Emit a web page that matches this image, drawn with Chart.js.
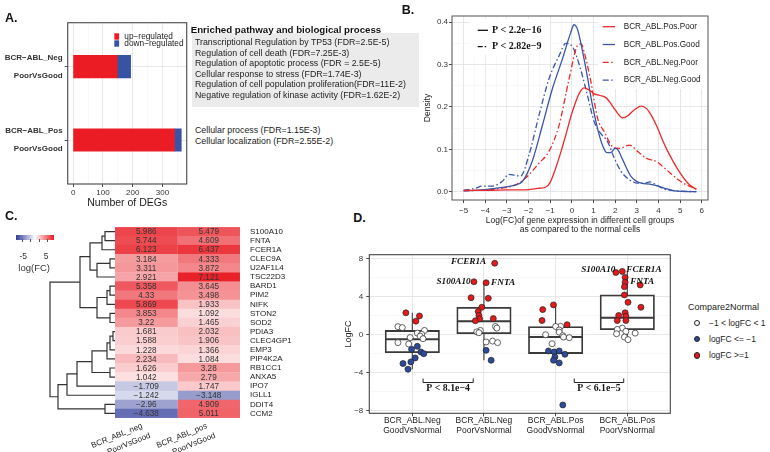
<!DOCTYPE html>
<html>
<head>
<meta charset="utf-8">
<title>DEG figure</title>
<script src="https://cdn.jsdelivr.net/npm/chart.js@4.4.1/dist/chart.umd.min.js"></script>
<style>
  body { margin: 0; width: 770px; height: 452px; position: relative; overflow: hidden; background: #fff;
         font-family: "Liberation Sans", Arial, sans-serif; color: #222; }
  canvas { position: absolute; }
  .t { position: absolute; white-space: nowrap; line-height: 1; }
  #termBox { position: absolute; left: 192px; top: 33px; width: 227px; height: 74px; background: #ebebeb; }
  #fcBar { position: absolute; left: 16px; top: 235px; width: 38px; height: 4.5px; }
</style>
</head>
<body>
<div id="termBox"></div>
<div id="fcBar"></div>
<canvas id="chartA" width="195" height="200" style="left:0;top:15px"></canvas>
<canvas id="chartB" width="305" height="225" style="left:405px;top:12px"></canvas>
<canvas id="dendro" width="72" height="191" style="left:45px;top:227px"></canvas>
<canvas id="heat" width="185" height="191" style="left:115px;top:227px"></canvas>
<canvas id="chartD" width="345" height="190" style="left:330px;top:250px"></canvas>
<script>
// ---------- A: number of DEGs ----------
const degGroups = [['BCR−ABL_Neg', 'PoorVsGood'], ['BCR−ABL_Pos', 'PoorVsGood']];
const degUp = [148, 340];
const degDown = [45, 23];
const negTerms = [
  'Transcriptional Regulation by TP53 (FDR=2.5E-5)',
  'Regulation of cell death (FDR=7.25E-3)',
  'Regulation of apoptotic process (FDR = 2.5E-5)',
  'Cellular response to stress (FDR=1.74E-3)',
  'Regulation of cell population proliferation(FDR=11E-2)',
  'Negative regulation of kinase activity (FDR=1.62E-2)'
];
const posTerms = ['Cellular process (FDR=1.15E-3)', 'Cellular localization (FDR=2.55E-2)'];

// ---------- B: density of log(FC) ----------
const posPoorDens = [[-5,0.003],[-4,0.003],[-3,0.004],[-2,0.005],[-1.5,0.008],[-1.2,0.011],[-1.0,0.022],[-0.75,0.055],[-0.5,0.095],[-0.28,0.134],[0,0.185],[0.34,0.232],[0.57,0.245],[0.8,0.24],[1.03,0.231],[1.3,0.227],[1.57,0.222],[1.8,0.208],[2.0,0.193],[2.35,0.174],[2.6,0.18],[2.81,0.19],[3.2,0.202],[3.45,0.196],[3.65,0.182],[3.97,0.149],[4.2,0.12],[4.43,0.095],[4.9,0.052],[5.36,0.02],[5.75,0.005]];
const posGoodDens = [[-5,0.002],[-4.15,0.004],[-3.38,0.009],[-2.68,0.015],[-2.29,0.024],[-1.83,0.072],[-1.37,0.155],[-0.9,0.243],[-0.44,0.313],[-0.05,0.376],[0.1,0.394],[0.22,0.388],[0.34,0.368],[0.65,0.29],[0.95,0.204],[1.26,0.134],[1.45,0.105],[1.62,0.092],[1.78,0.092],[2.0,0.102],[2.12,0.099],[2.35,0.075],[2.73,0.036],[3.2,0.02],[3.6,0.018],[3.9,0.014],[4.28,0.008],[4.75,0.002],[5.75,0.0]];
const negPoorDens = [[-5,0.002],[-4,0.004],[-3.38,0.007],[-2.6,0.016],[-2.14,0.032],[-1.52,0.067],[-1.06,0.095],[-0.59,0.157],[-0.13,0.266],[0.26,0.345],[0.43,0.349],[0.57,0.329],[0.88,0.259],[1.19,0.173],[1.5,0.141],[1.88,0.106],[2.19,0.102],[2.66,0.11],[3.04,0.095],[3.43,0.079],[3.9,0.071],[4.36,0.052],[4.82,0.032],[5.29,0.016],[5.75,0.007]];
const negGoodDens = [[-5,0.003],[-4.46,0.008],[-4.15,0.013],[-3.69,0.013],[-3.22,0.024],[-2.91,0.041],[-2.6,0.038],[-2.37,0.037],[-1.98,0.087],[-1.52,0.18],[-1.06,0.266],[-0.59,0.321],[-0.28,0.35],[0.03,0.342],[0.34,0.3],[0.72,0.227],[1.03,0.165],[1.34,0.137],[1.65,0.118],[1.96,0.079],[2.27,0.048],[2.66,0.028],[3.04,0.02],[3.35,0.02],[3.6,0.023],[3.9,0.016],[4.28,0.006],[4.75,0.002],[5.75,0.0]];
const pLegend = ['P < 2.2e−16', 'P < 2.82e−9'];

// ---------- C: heatmap of PoorVsGood log(FC) ----------
const heatGenes = ['S100A10','FNTA','FCER1A','CLEC9A','U2AF1L4','TSC22D3','BARD1','PIM2','NIFK','STON2','SOD2',
  'PDIA3','CLEC4GP1','EMP3','PIP4K2A','RB1CC1','ANXA5','IPO7','IGLL1','DDIT4','CCM2'];
const heatNeg = [5.986,5.744,6.123,3.184,3.311,2.921,5.358,4.33,5.869,3.853,3.22,1.681,1.588,1.228,2.234,1.626,1.042,-1.709,-1.242,-2.96,-4.638];
const heatPos = [5.479,4.609,6.437,4.333,3.872,7.121,3.645,3.498,1.933,1.092,1.465,2.032,1.906,1.366,1.084,3.28,2.79,1.747,-3.148,4.909,5.011];
const heatCols = [['BCR_ABL_neg', 'PoorVsGood'], ['BCR_ABL_pos', 'PoorVsGood']];
// hclust style merges: negative = leaf row (1-based), positive = earlier merge, then height
const heatMerge = [
  [-1,-2,10],[1,-3,13],[-4,-5,5],[3,-6,18],[2,4,25],
  [-7,-8,5],[6,-9,8],[-10,-11,5],[7,8,18],[5,9,35],
  [-12,-13,2],[11,-14,5],[12,-15,8],[-16,-17,5],[13,14,23],
  [15,-18,38],[16,-19,48],[-20,-21,10],[17,18,57],[10,19,65]
];

// ---------- D: logFC vs normal ----------
const boxGroups = [['BCR_ABL.Neg','GoodVsNormal'],['BCR_ABL.Neg','PoorVsNormal'],['BCR_ABL.Pos','GoodVsNormal'],['BCR_ABL.Pos','PoorVsNormal']];
const boxQ1 = [-1.89, 0.1, -1.99, 0.52];
const boxMed = [-0.49, 1.43, -0.25, 1.78];
const boxQ3 = [0.45, 2.9, 0.87, 4.2];
const boxLow = [-3.64, -2.7, -2.98, -0.52];
const boxHigh = [2.31, 5.59, 3.15, 6.68];
const negGoodFC = [2.31,1.98,1.43,0.85,0.75,0.45,0.17,0.05,-0.15,-0.3,-0.42,-0.83,-0.98,-1.23,-1.54,-1.82,-2.0,-2.45,-2.87,-3.05,-3.64];
const negGoodJit = [-0.09,0.10,0.05,-0.20,-0.14,0.17,0.07,0.13,0.11,-0.03,0.15,-0.20,-0.05,0.07,-0.01,0.12,0.16,0.04,-0.02,-0.13,-0.06];
const negPoorFC = [7.55,5.59,5.49,3.91,3.84,2.9,2.44,2.03,1.68,1.47,1.71,0.87,0.7,0.45,0.3,0.21,-0.67,-0.77,-0.84,-1.65,-2.7];
const negPoorJit = [0.15,-0.14,0.03,-0.18,0.06,-0.03,-0.08,-0.07,-0.06,-0.12,0.13,0.16,0.18,-0.05,-0.1,-0.07,0.12,0.03,0.19,0.03,0.10];
const posGoodFC = [3.15,2.65,1.5,1.06,0.88,0.87,0.5,0.27,0.0,-0.1,-0.25,-0.31,-0.95,-1.72,-1.82,-1.72,-2.07,-2.35,-2.7,-2.98,-7.42];
const posGoodJit = [-0.03,-0.18,-0.19,0.16,0.07,0.0,0.05,0.05,-0.14,0.1,0.11,0.19,-0.05,-0.1,-0.02,0.05,0.13,-0.01,-0.03,0.05,0.1];
const posPoorFC = [6.57,6.68,5.25,6.05,5.52,5.07,4.2,3.42,2.9,2.31,2.03,1.95,1.5,1.5,0.7,0.56,0.35,0.17,0.1,-0.25,-0.52];
const posPoorJit = [-0.16,-0.07,0.18,-0.03,-0.03,-0.04,-0.04,0.01,0.19,-0.03,-0.12,-0.02,-0.14,-0.02,-0.07,-0.14,-0.02,0.11,-0.15,-0.04,0.01];
const geneTags = [
  { group: 1, idx: 0, text: 'FCER1A', align: 'right', dx: -8.5, dy: -2 },
  { group: 1, idx: 1, text: 'S100A10', align: 'right', dx: -3.3, dy: 0 },
  { group: 1, idx: 2, text: 'FNTA', align: 'left', dx: 5, dy: 0 },
  { group: 3, idx: 0, text: 'S100A10', align: 'right', dx: -0.5, dy: -2.4 },
  { group: 3, idx: 1, text: 'FCER1A', align: 'left', dx: 4, dy: -1.7 },
  { group: 3, idx: 2, text: 'FNTA', align: 'center', dx: 2, dy: -3.5 }
];
const pBrackets = [
  { from: 1.15, to: 1.85, y: -5.05, label: 'P < 8.1e−4' },
  { from: 3.26, to: 3.95, y: -5.05, label: 'P < 6.1e−5' }
];
const fcClasses = [
  { label: '−1 < logFC < 1', fill: '#ffffff' },
  { label: 'logFC <= −1', fill: '#2e4a9b' },
  { label: 'logFC >=1', fill: '#e3191c' }
];

// ---------- shared setup ----------
Chart.defaults.font.family = '"Liberation Sans", Arial, sans-serif';
Chart.defaults.color = '#333';
Chart.defaults.animation = false;
Chart.defaults.responsive = false;
Chart.defaults.plugins.legend.display = false;
Chart.defaults.plugins.tooltip.enabled = false;

const RED = '#ec1c24', BLUE = '#3953a4';
const DASHDOT = [6, 2.5, 1.5, 2.5];
const minus = s => String(s).replace('-', '−');
const range = (a, b, step) => {
  const out = [];
  for (let v = a; v <= b + 1e-9; v += step) out.push(Math.round(v * 1000) / 1000);
  return out;
};
const fixedTicks = vals => scale => { scale.ticks = vals.map(v => ({ value: v })); };
// fixed axis box; no extra room for the end labels, so the plot area lands where it should
const fitWidth = w => s => { s.width = w; s.paddingTop = 0; s.paddingBottom = 0; };
const fitHeight = h => s => { s.height = h; s.paddingLeft = 0; s.paddingRight = 0; };
const tickVal = c => (c.tick ? c.tick.value : 0);
const lightGrid = isMajor => ({
  color: c => (isMajor(tickVal(c)) ? '#e4e4e4' : '#f1f1f1'),
  lineWidth: c => (isMajor(tickVal(c)) ? 0.9 : 0.5),
  tickLength: 3,
  tickColor: c => (isMajor(tickVal(c)) ? '#333' : 'rgba(0,0,0,0)'),
  offset: false
});

function addText(txt, x, y, o = {}) {
  const d = document.createElement('div');
  d.className = 't';
  d.textContent = txt;
  const s = d.style;
  s.left = x + 'px';
  s.top = y + 'px';
  s.fontSize = (o.size || 8) + 'px';
  if (o.weight) s.fontWeight = o.weight;
  if (o.family) s.fontFamily = o.family;
  s.color = o.color || '#222';
  const ax = o.align === 'center' ? '-50%' : o.align === 'right' ? '-100%' : '0';
  s.transform = `translate(${ax},-50%)` + (o.rotate ? ` rotate(${o.rotate}deg)` : '');
  document.body.appendChild(d);
  return d;
}

// panel frame drawn over the data, like the ggplot panel border
const frame = {
  id: 'frame',
  afterDatasetsDraw(chart, args, opts) {
    const { ctx, chartArea: a } = chart;
    ctx.save();
    ctx.strokeStyle = opts.color || '#444';
    ctx.lineWidth = opts.width || 1;
    ctx.strokeRect(a.left, a.top, a.right - a.left, a.bottom - a.top);
    ctx.restore();
  }
};

// ---------- A ----------
const degLegend = {
  id: 'degLegend',
  afterDatasetsDraw(chart) {
    const { ctx, chartArea: a } = chart;
    ctx.save();
    ctx.fillStyle = '#fff';
    ctx.fillRect(a.left + 44, a.top + 8, a.right - a.left - 45, 17);
    ctx.font = '8.3px "Liberation Sans", Arial, sans-serif';
    ctx.textBaseline = 'middle';
    chart.data.datasets.forEach((ds, i) => {
      const y = a.top + 13.6 + i * 7;
      ctx.fillStyle = ds.backgroundColor;
      ctx.fillRect(a.left + 46.6, y - 3, 4.8, 6.4);
      ctx.fillStyle = '#222';
      ctx.fillText(ds.label, a.left + 56.6, y);
    });
    ctx.restore();
  }
};

new Chart(document.getElementById('chartA'), {
  type: 'bar',
  data: {
    datasets: [
      { label: 'up−regulated', data: degUp.map((v, i) => ({ y: i + 1, x: [0, v] })),
        backgroundColor: RED, barThickness: 22.5, grouped: false },
      { label: 'down−regulated', data: degDown.map((v, i) => ({ y: i + 1, x: [degUp[i], degUp[i] + v] })),
        backgroundColor: BLUE, barThickness: 22.5, grouped: false }
    ]
  },
  options: {
    indexAxis: 'y',
    layout: { padding: { top: 7.7, right: 8.3, left: 0, bottom: 0 } },
    scales: {
      x: {
        type: 'linear', min: -18.15, max: 381.15, offset: false,
        afterBuildTicks: fixedTicks(range(0, 350, 50)),
        afterFit: fitHeight(31),
        grid: lightGrid(v => v % 100 === 0), border: { display: false },
        ticks: { autoSkip: false, maxRotation: 0, padding: 1, font: { size: 8 }, color: '#333',
                 callback: v => (v % 100 === 0 ? v : '') },
        title: { display: true, text: 'Number of DEGs', font: { size: 10.5 }, color: '#222', padding: { top: 0, bottom: 5.7 } }
      },
      y: {
        type: 'linear', min: 0.4, max: 2.6, reverse: true, offset: false,
        afterBuildTicks: fixedTicks([1, 2]),
        afterFit: fitWidth(67.7),
        grid: lightGrid(() => true), border: { display: false },
        ticks: { padding: 2, font: { size: 8, weight: 'bold', lineHeight: 2.25 }, color: '#333',
                 callback: v => degGroups[v - 1] }
      }
    },
    plugins: { frame: { color: '#555', width: 1.2 } }
  },
  plugins: [frame, degLegend]
});

addText('A.', 5, 17.5, { size: 12.5, weight: 'bold', color: '#111' });
addText('Enriched pathway and biological process', 190.7, 30, { size: 9.7, weight: 'bold', color: '#111' });
negTerms.forEach((t, i) => addText(t, 195, 42.3 + i * 10.54, { size: 8.8 }));
posTerms.forEach((t, i) => addText(t, 195, 130 + i * 11.2, { size: 8.8 }));

// ---------- B ----------
const densLegend = {
  id: 'densLegend',
  beforeDatasetsDraw(chart) {
    const { ctx, chartArea: a } = chart;
    const seg = (x1, x2, y, color, dash) => {
      ctx.strokeStyle = color;
      ctx.lineWidth = 1.3;
      ctx.setLineDash(dash || []);
      ctx.beginPath(); ctx.moveTo(x1, y); ctx.lineTo(x2, y); ctx.stroke();
    };
    ctx.save();
    ctx.fillStyle = '#fff';
    ctx.fillRect(a.left + 18, a.top + 3, 80, 36);
    ctx.fillRect(a.left + 146, a.top + 1, a.right - a.left - 147, 72);
    ctx.textBaseline = 'middle';
    ctx.font = '8.2px "Liberation Sans", Arial, sans-serif';
    chart.data.datasets.forEach((ds, i) => {
      const y = a.top + 10.7 + i * 17.8;
      seg(a.left + 150.7, a.left + 163, y, ds.borderColor, ds.borderDash);
      ctx.fillStyle = '#222';
      ctx.fillText(ds.label, a.left + 171.7, y);
    });
    ctx.font = 'bold 10px "Liberation Serif", serif';
    pLegend.forEach((txt, i) => {
      const y = a.top + 14.3 + i * 16.4;
      seg(a.left + 25.7, a.left + 36, y, '#111', i === 0 ? [] : [5, 2, 1.5, 2]);
      ctx.fillStyle = '#111';
      ctx.fillText(txt, a.left + 40, y);
    });
    ctx.restore();
  }
};

const densSeries = [
  { label: 'BCR_ABL.Pos.Poor', pts: posPoorDens, color: '#ec2a2c', dash: [] },
  { label: 'BCR_ABL.Pos.Good', pts: posGoodDens, color: '#3a56a8', dash: [] },
  { label: 'BCR_ABL.Neg.Poor', pts: negPoorDens, color: '#ec2a2c', dash: DASHDOT },
  { label: 'BCR_ABL.Neg.Good', pts: negGoodDens, color: '#3a56a8', dash: DASHDOT }
];

const isTenth = v => Math.abs(v * 10 - Math.round(v * 10)) < 1e-6;
new Chart(document.getElementById('chartB'), {
  type: 'line',
  data: {
    datasets: densSeries.map(s => ({
      label: s.label, data: s.pts.map(([x, y]) => ({ x, y })),
      borderColor: s.color, borderDash: s.dash, borderWidth: 1.3,
      pointRadius: 0, cubicInterpolationMode: 'monotone', fill: false
    }))
  },
  options: {
    layout: { padding: { top: 4, right: 2, left: 0, bottom: 0 } },
    scales: {
      x: {
        type: 'linear', min: -5.5375, max: 6.2875,
        afterBuildTicks: fixedTicks(range(-5.5, 6, 0.5)),
        afterFit: fitHeight(37),
        grid: lightGrid(v => Number.isInteger(v)), border: { display: false },
        ticks: { autoSkip: false, maxRotation: 0, padding: 3, font: { size: 8 }, color: '#333',
                 callback: v => (Number.isInteger(v) ? minus(v) : '') },
        title: { display: true, text: ['Log(FC)of gene expression in different cell groups', 'as compared to the normal cells'],
                 font: { size: 8.5, lineHeight: 1.1 }, color: '#222', padding: { top: 0, bottom: 2.8 } }
      },
      y: {
        type: 'linear', min: -0.0197, max: 0.4147,
        afterBuildTicks: fixedTicks(range(0, 0.4, 0.05)),
        afterFit: fitWidth(47),
        grid: lightGrid(isTenth), border: { display: false },
        ticks: { autoSkip: false, padding: 1, font: { size: 8 }, color: '#333',
                 callback: v => (isTenth(v) ? v.toFixed(1) : '') },
        title: { display: true, text: 'Density', font: { size: 8.5 }, color: '#222', padding: { top: 18, bottom: 0 } }
      }
    },
    plugins: { frame: { color: '#555', width: 1 } }
  },
  plugins: [frame, densLegend]
});
addText('B.', 401.7, 10, { size: 12.5, weight: 'bold', color: '#111' });

// ---------- C ----------
const NEG_END = [49, 60, 155], POS_END = [232, 28, 36];
function fcColor(v) {
  const end = v < 0 ? NEG_END : POS_END;
  const t = Math.min(1, Math.abs(v) / (v < 0 ? 6.2 : 7.3));
  return 'rgb(' + end.map(e => Math.round(255 + (e - 255) * t)).join(',') + ')';
}

function dendroSegments(merges) {
  const nodes = [];
  const at = k => (k < 0 ? [-k - 1, 0] : nodes[k - 1]);
  const pts = [];
  merges.forEach(([a, b, h]) => {
    const [ya, ha] = at(a), [yb, hb] = at(b);
    pts.push({ x: ha, y: ya }, { x: h, y: ya }, { x: h, y: yb }, { x: hb, y: yb }, { x: h, y: null });
    nodes.push([(ya + yb) / 2, h]);
  });
  return pts;
}

new Chart(document.getElementById('dendro'), {
  type: 'scatter',
  data: { datasets: [{ data: dendroSegments(heatMerge), showLine: true, spanGaps: false, pointRadius: 0,
                       borderColor: '#333', borderWidth: 1.2, clip: false }] },
  options: {
    layout: { padding: { top: 0, right: 2, left: 0, bottom: 0 } },
    scales: {
      x: { type: 'linear', min: 0, max: 70, reverse: true, display: false },
      y: { type: 'linear', min: -0.5, max: heatGenes.length - 0.5, reverse: true, display: false }
    }
  }
});

const cellText = {
  id: 'cellText',
  afterDatasetsDraw(chart, args, opts) {
    const { ctx } = chart;
    ctx.save();
    ctx.font = '8.2px "Liberation Sans", Arial, sans-serif';
    ctx.fillStyle = '#333';
    ctx.textAlign = 'center';
    ctx.textBaseline = 'middle';
    opts.values.forEach((vals, di) => {
      chart.getDatasetMeta(di).data.forEach((bar, i) => {
        ctx.fillText(minus(vals[i]), (bar.x + bar.base) / 2, bar.y + 0.5);
      });
    });
    ctx.restore();
  }
};

new Chart(document.getElementById('heat'), {
  type: 'bar',
  data: {
    labels: heatGenes,
    datasets: [heatNeg, heatPos].map(vals => ({
      data: vals.map(() => 1),
      backgroundColor: vals.map(fcColor), borderColor: vals.map(fcColor), borderWidth: 0.5,
      barPercentage: 1, categoryPercentage: 1
    }))
  },
  options: {
    indexAxis: 'y',
    layout: { padding: 0 },
    scales: {
      x: { stacked: true, display: false, min: 0, max: 2 },
      y: { stacked: true, position: 'right', afterFit: fitWidth(60),
           grid: { display: false, drawTicks: false }, border: { display: false },
           ticks: { padding: 10, autoSkip: false, font: { size: 8 }, color: '#222' } }
    },
    plugins: { cellText: { values: [heatNeg, heatPos] } }
  },
  plugins: [cellText]
});

addText('C.', 5, 216, { size: 12.5, weight: 'bold', color: '#111' });
document.getElementById('fcBar').style.background =
  `linear-gradient(to right, rgb(${NEG_END}), #fff 50%, rgb(${POS_END}))`;
[-5, -5 / 3, 5 / 3, 5].forEach(v => {
  const m = document.createElement('div');
  m.style.cssText = `position:absolute;left:${35 + v * 2.53 - 0.4}px;top:239px;width:0.8px;height:2.5px;background:#555`;
  document.body.appendChild(m);
});
addText('-5', 23.3, 255.5, { size: 8.5, align: 'center', color: '#333' });
addText('5', 46, 255.5, { size: 8.5, align: 'center', color: '#333' });
addText('log(FC)', 18.3, 268.3, { size: 9.5, color: '#333' });
heatCols.forEach((lines, c) => {
  addText(lines[0], 117 + c * 65, 436, { size: 8, align: 'center', rotate: -22 });
  addText(lines[1], 129 + c * 65, 444, { size: 8, align: 'center', rotate: -22 });
});

// ---------- D ----------
const dFC = [negGoodFC, negPoorFC, posGoodFC, posPoorFC];
const dJit = [negGoodJit, negPoorJit, posGoodJit, posPoorJit];
const classOf = v => (v >= 1 ? 2 : v <= -1 ? 1 : 0);
const BOX_HALF = 0.377;

const dAnnot = {
  id: 'dAnnot',
  afterDatasetsDraw(chart) {
    const { ctx, scales: { x, y } } = chart;
    ctx.save();
    ctx.fillStyle = '#111';
    ctx.textBaseline = 'middle';
    ctx.font = 'italic bold 9.2px "Liberation Serif", serif';
    geneTags.forEach(t => {
      const px = x.getPixelForValue(t.group + 1 + dJit[t.group][t.idx]);
      const py = y.getPixelForValue(dFC[t.group][t.idx]);
      ctx.textAlign = t.align;
      ctx.fillText(t.text, px + t.dx, py + t.dy);
    });
    ctx.font = 'bold 9.8px "Liberation Serif", serif';
    ctx.textAlign = 'center';
    ctx.strokeStyle = '#222';
    ctx.lineWidth = 1;
    pBrackets.forEach(b => {
      const x1 = x.getPixelForValue(b.from), x2 = x.getPixelForValue(b.to), yy = y.getPixelForValue(b.y);
      ctx.beginPath();
      ctx.moveTo(x1, yy - 4); ctx.lineTo(x1, yy); ctx.lineTo(x2, yy); ctx.lineTo(x2, yy - 4);
      ctx.stroke();
      ctx.fillText(b.label, (x1 + x2) / 2, yy + 6);
    });
    ctx.restore();
  }
};

const pointSets = fcClasses.map((c, k) => ({
  type: 'scatter',
  data: dFC.flatMap((vals, g) => vals.map((v, i) => ({ x: g + 1 + dJit[g][i], y: v })))
           .filter(p => classOf(p.y) === k),
  backgroundColor: c.fill, borderColor: '#222', borderWidth: 0.7, pointRadius: 3, order: 0
}));

new Chart(document.getElementById('chartD'), {
  type: 'bar',
  data: {
    datasets: [
      ...pointSets,
      { type: 'bar', data: boxQ1.map((q, i) => ({ x: i + 1, y: [q, boxQ3[i]] })),
        backgroundColor: 'rgba(0,0,0,0)', borderColor: '#3a3a3a', borderWidth: 1.1, borderSkipped: false,
        barThickness: 54.4, grouped: false, order: 2 },
      { type: 'line', data: boxMed.flatMap((m, i) => [{ x: i + 1 - BOX_HALF, y: m }, { x: i + 1 + BOX_HALF, y: m }, { x: i + 1, y: null }]),
        borderColor: '#3a3a3a', borderWidth: 2, pointRadius: 0, spanGaps: false, order: 1 },
      { type: 'line', data: boxQ1.flatMap((q, i) => [
          { x: i + 1, y: boxHigh[i] }, { x: i + 1, y: boxQ3[i] }, { x: i + 1, y: null },
          { x: i + 1, y: q }, { x: i + 1, y: boxLow[i] }, { x: i + 1, y: null }]),
        borderColor: '#3a3a3a', borderWidth: 1.1, pointRadius: 0, spanGaps: false, order: 3 }
    ]
  },
  options: {
    layout: { padding: { top: 4, right: 2.7, left: 0, bottom: 0 } },
    scales: {
      x: {
        type: 'linear', min: 0.4, max: 4.6, offset: false,
        afterBuildTicks: fixedTicks([1, 2, 3, 4]),
        afterFit: fitHeight(26.7),
        grid: lightGrid(() => true), border: { display: false },
        ticks: { autoSkip: false, maxRotation: 0, padding: 0, font: { size: 8.5, lineHeight: 1.1 }, color: '#222',
                 callback: v => boxGroups[v - 1] }
      },
      y: {
        type: 'linear', min: -8.3, max: 8.45,
        afterBuildTicks: fixedTicks(range(-8, 8, 2)),
        afterFit: fitWidth(39.3),
        grid: lightGrid(v => v % 4 === 0), border: { display: false },
        ticks: { autoSkip: false, padding: 3, font: { size: 8 }, color: '#333',
                 callback: v => (v % 4 === 0 ? minus(v) : '') },
        title: { display: true, text: 'LogFC', font: { size: 9 }, color: '#222', padding: { top: 12.9, bottom: 0 } }
      }
    },
    plugins: { frame: { color: '#444', width: 1.1 } }
  },
  plugins: [frame, dAnnot]
});

addText('D.', 353.3, 217.5, { size: 12.5, weight: 'bold', color: '#111' });
addText('Compare2Normal', 688, 306.7, { size: 9 });
fcClasses.forEach((c, k) => {
  const y = 322.7 + k * 16.2;
  const dot = document.createElement('div');
  dot.style.cssText = `position:absolute;left:${696.7 - 3}px;top:${y - 3}px;width:4.6px;height:4.6px;` +
    `border-radius:50%;border:0.7px solid #222;background:${c.fill}`;
  document.body.appendChild(dot);
  addText(c.label, 709, y, { size: 8.5 });
});
</script>
</body>
</html>
